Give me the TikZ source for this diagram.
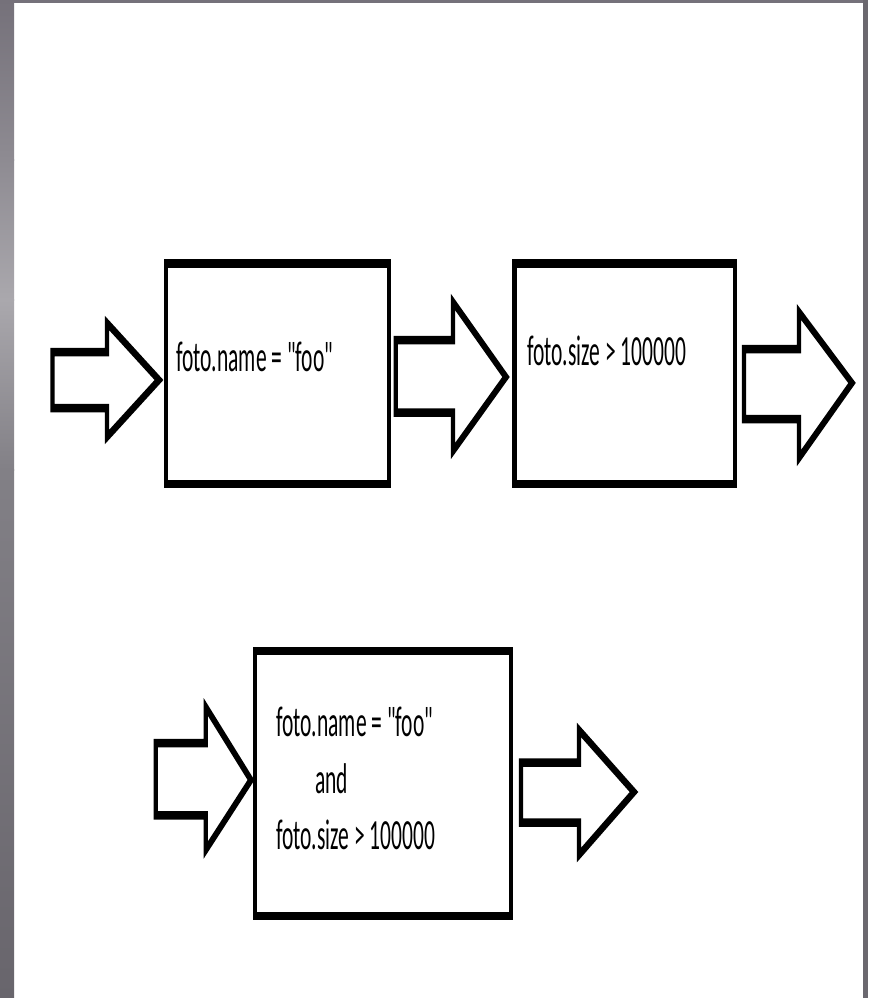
\documentclass[tikz,border=0pt]{standalone}
\usepackage{fontspec}
\setmainfont{Carlito}[Ligatures=TeXOff]
\definecolor{barA}{HTML}{75717A}
\definecolor{barB}{HTML}{8E8B92}
\definecolor{barC}{HTML}{AAA8AD}
\definecolor{barD}{HTML}{828086}
\definecolor{barE}{HTML}{68656C}
\definecolor{barR}{HTML}{6B686F}
\tikzset{
  condbox/.style={draw=black, line width=8.5pt, fill=white, inner sep=0pt},
  blockarrow/.style={draw=black, line width=8.5pt, line join=miter, miter limit=10, fill=white},
  condtext/.style={font=\fontsize{43}{57}\selectfont, inner sep=0pt, anchor=base west}
}
\begin{document}
\begin{tikzpicture}[x=1pt,y=-1pt]
  \useasboundingbox (0,0) rectangle (868,998);
  \fill[white] (0,0) rectangle (868,998);
  % slide frame: top strip, shaded left strip, thin right strip
  \fill[barA] (0,0) rectangle (868,3.5);
  \shade[top color=barA, bottom color=barB] (0,0) rectangle (14,160);
  \shade[top color=barB, bottom color=barC] (0,159.5) rectangle (14,300);
  \shade[top color=barC, bottom color=barD] (0,299.5) rectangle (14,470);
  \shade[top color=barD, bottom color=barE] (0,469.5) rectangle (14,998);
  \fill[barR] (862.5,0) rectangle (868,998);

  % drawing content, squeezed horizontally to half width
  \begin{scope}[transform canvas={xscale=0.5}, x=2pt, y=-1pt]
    % condition boxes
    \node[condbox, minimum width=446pt, minimum height=220.5pt] (b1) at (277.7,373.5) {};
    \node[condbox, minimum width=441.6pt, minimum height=220.5pt] (b2) at (624.9,373.5) {};
    \node[condbox, minimum width=511.8pt, minimum height=265pt] (b3) at (383.25,783.3) {};

    % block arrows of the two-stage chain
    \draw[blockarrow] (52.5,352) -- (107,352) -- (107,323) -- (159,380) -- (107,437) -- (107,408) -- (52.5,408) -- cycle;
    \draw[blockarrow] (395.8,340) -- (453,340) -- (453,302) -- (506,377) -- (453,451) -- (453,412.5) -- (395.8,412.5) -- cycle;
    \draw[blockarrow] (744,349) -- (799,349) -- (799,312) -- (852,383) -- (799,458) -- (799,419) -- (744,419) -- cycle;

    % block arrows of the combined filter
    \draw[blockarrow] (155.8,743) -- (205.8,743) -- (205.8,707) -- (251,780) -- (205.8,850) -- (205.8,815.3) -- (155.8,815.3) -- cycle;
    \draw[blockarrow] (521,762.5) -- (579,762.5) -- (579,730) -- (634,792) -- (579,855) -- (579,822.5) -- (521,822.5) -- cycle;

    % conditions
    \node[condtext] (t1) at (176,371) {foto.name = "foo"};
    \node[condtext] (t2) at (527,365) {foto.size > 100000};
    \node[condtext] (t3a) at (276,736) {foto.name = "foo"};
    \node[condtext] (t3b) at (315,793) {and};
    \node[condtext] (t3c) at (276,849) {foto.size > 100000};
  \end{scope}
\end{tikzpicture}
\end{document}
